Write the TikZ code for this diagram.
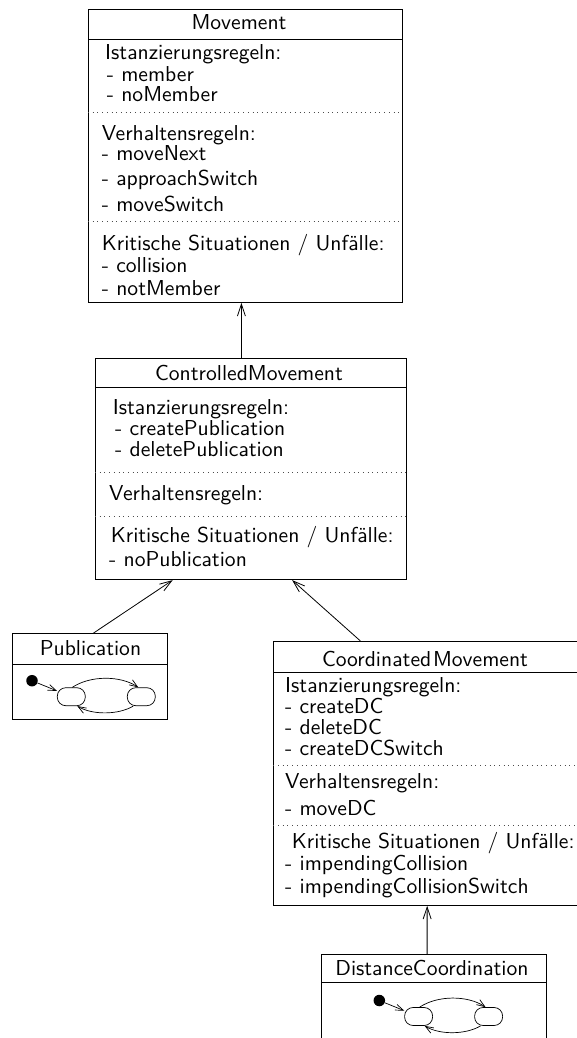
\documentclass[tikz,border=0pt]{standalone}
\usetikzlibrary{arrows.meta}

% sans text at the 10pt design size, enlarged to the picture's scale
\newcommand\umltext[1]{\scalebox{2}{\sffamily\fontsize{10.8}{13}\selectfont #1}}

% small state machine: initial dot and two states joined by transitions
\newcommand\statechart[3]{%
  \node[initdot] (#1-init) at (#2,#3) {};
  \node[smstate] (#1-a) at ([shift={(39.3,16)}]#1-init) {};
  \node[smstate] (#1-b) at ([shift={(70,0)}]#1-a) {};
  \draw[smarrow] (#1-init) -- (#1-a);
  \draw[smarrow] ([xshift=1pt]#1-a.north) .. controls +(18,-12) and +(-18,-12) .. ([xshift=-3pt]#1-b.north);
  \draw[smarrow] ([xshift=-8pt]#1-b.south) .. controls +(-15,9) and +(15,9) .. ([xshift=6pt]#1-a.south);
}

\begin{document}
\begin{tikzpicture}[x=1pt,y=-1pt,
  box/.style={draw, line width=0.8pt, inner sep=0pt, anchor=north west},
  part/.style={line width=0.8pt},
  divider/.style={line width=0.9pt, black!70, dash pattern=on 0.9pt off 3.8pt},
  lbl/.style={anchor=base west, inner sep=0pt},
  ttl/.style={anchor=base, inner sep=0pt},
  inh/.style={line width=0.8pt, -{Straight Barb[length=12pt,width=8pt]}},
  smarrow/.style={line width=0.7pt, -{Straight Barb[length=8pt,width=6pt]}},
  smstate/.style={draw, line width=0.7pt, minimum width=28pt, minimum height=18pt, rounded corners=8.5pt, inner sep=0pt},
  initdot/.style={circle, fill, minimum size=11.5pt, inner sep=0pt}]

\useasboundingbox (0,0) rectangle (576,1038);

% ---------------- Movement ----------------
\node[box, minimum width=314pt, minimum height=292.5pt] (M) at (88,9.5) {};
\draw[part] (M.west |- 0,39.5) -- (M.east |- 0,39.5);
\draw[divider] (M.west |- 0,112.7) -- (M.east |- 0,112.7);
\draw[divider] (M.west |- 0,221) -- (M.east |- 0,221);
\node[ttl] (m-title) at (239,29.5) {\umltext{Movement}};
\node[lbl] (m-i0) at (105,60) {\umltext{Istanzierungsregeln:}};
\node[lbl] (m-i1) at (106.7,82) {\umltext{- member}};
\node[lbl] (m-i2) at (106.7,102) {\umltext{- noMember}};
\node[lbl] (m-v0) at (101.7,140) {\umltext{Verhaltensregeln:}};
\node[lbl] (m-v1) at (101.7,160) {\umltext{- moveNext}};
\node[lbl] (m-v2) at (101.7,185) {\umltext{- approachSwitch}};
\node[lbl] (m-v3) at (101.7,211) {\umltext{- moveSwitch}};
\node[lbl] (m-k0) at (101.7,250.5) {\umltext{Kritische Situationen / Unfälle:}};
\node[lbl] (m-k1) at (101.7,272) {\umltext{- collision}};
\node[lbl] (m-k2) at (101.7,295) {\umltext{- notMember}};

% ---------------- ControlledMovement ----------------
\node[box, minimum width=311pt, minimum height=221pt] (CM) at (95,358.3) {};
\draw[part] (CM.west |- 0,387.3) -- (CM.east |- 0,387.3);
\draw[divider] (CM.west |- 0,472.7) -- (CM.east |- 0,472.7);
\draw[divider] (CM.west |- 0,516.7) -- (CM.east |- 0,516.7);
\node[ttl] (cm-title) at (249,380.7) {\umltext{ControlledMovement}};
\node[lbl] (cm-i0) at (112.7,414) {\umltext{Istanzierungsregeln:}};
\node[lbl] (cm-i1) at (115,435) {\umltext{- createPublication}};
\node[lbl] (cm-i2) at (115,456) {\umltext{- deletePublication}};
\node[lbl] (cm-v0) at (109,500) {\umltext{Verhaltensregeln:}};
\node[lbl] (cm-k0) at (110.7,542.7) {\umltext{Kritische Situationen / Unfälle:}};
\node[lbl] (cm-k1) at (109,566) {\umltext{- noPublication}};

% ---------------- Publication ----------------
\node[box, minimum width=154.3pt, minimum height=86pt] (P) at (12.3,633.3) {};
\draw[part] (P.west |- 0,664) -- (P.east |- 0,664);
\node[ttl] (p-title) at (90.5,655) {\umltext{Publication}};
\statechart{p}{32}{680.7}

% ---------------- CoordinatedMovement ----------------
\node[box, minimum width=304.7pt, minimum height=264pt] (CO) at (273.3,641) {};
\draw[part] (CO.west |- 0,672.7) -- (CO.east |- 0,672.7);
\draw[divider] (CO.west |- 0,765) -- (CO.east |- 0,765);
\draw[divider] (CO.west |- 0,825) -- (CO.east |- 0,825);
\node[ttl] (co-title) at (425,666.7) {\umltext{Coordinated\kern0.9pt Movement}};
\node[lbl] (co-i0) at (285,692.6) {\umltext{Istanzierungsregeln:}};
\node[lbl] (co-i1) at (285,713.4) {\umltext{- createDC}};
\node[lbl] (co-i2) at (285,734.4) {\umltext{- deleteDC}};
\node[lbl] (co-i3) at (285,755.2) {\umltext{- createDCSwitch}};
\node[lbl] (co-v0) at (285,788.3) {\umltext{Verhaltensregeln:}};
\node[lbl] (co-v1) at (285,815) {\umltext{- moveDC}};
\node[lbl] (co-k0) at (291.7,848.3) {\umltext{Kritische Situationen / Unfälle:}};
\node[lbl] (co-k1) at (285,870) {\umltext{- impendingCollision}};
\node[lbl] (co-k2) at (285,893.3) {\umltext{- impendingCollisionSwitch}};

% ---------------- DistanceCoordination ----------------
\node[box, minimum width=225pt, minimum height=92pt] (DC) at (321,954.3) {};
\draw[part] (DC.west |- 0,982.7) -- (DC.east |- 0,982.7);
\node[ttl] (dc-title) at (432,975) {\umltext{DistanceCoordination}};
\statechart{dc}{379.3}{1000.5}

% ---------------- generalisations ----------------
\draw[inh] ([xshift=-9.5pt]CM.north) -- ([xshift=-4pt]M.south);
\draw[inh] ([xshift=3.3pt]P.north) -- ([xshift=-78.2pt]CM.south);
\draw[inh] ([xshift=-65.6pt]CO.north) -- ([xshift=41.2pt]CM.south);
\draw[inh] ([xshift=-6.8pt]DC.north) -- ([xshift=1.1pt]CO.south);

\end{tikzpicture}
\end{document}
